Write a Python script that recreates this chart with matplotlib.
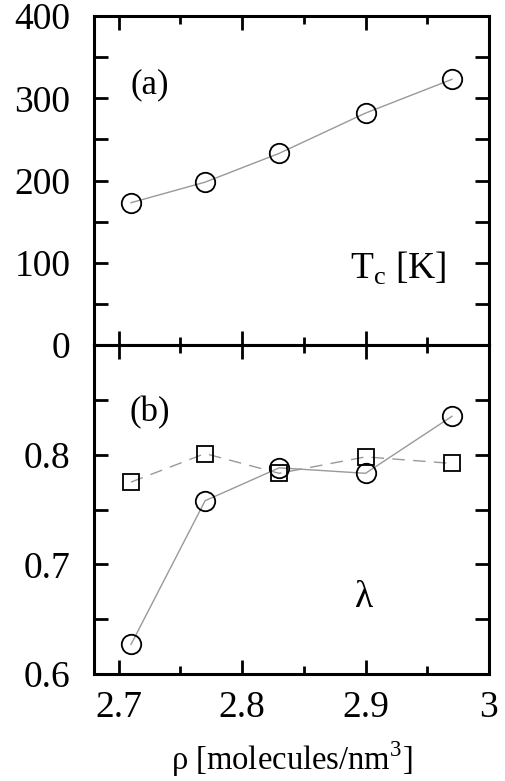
import matplotlib.pyplot as plt
from matplotlib.ticker import MultipleLocator

plt.rcParams['font.family'] = ['Liberation Serif', 'DejaVu Serif']
plt.rcParams['mathtext.fontset'] = 'custom'
plt.rcParams['mathtext.rm'] = 'Liberation Serif'

# data
rho = [2.71, 2.77, 2.83, 2.90, 2.97]
tc = [173, 198, 233, 282, 323]
lam_circles = [0.627, 0.758, 0.788, 0.783, 0.835]
lam_squares = [0.775, 0.801, 0.783, 0.798, 0.792]

fig = plt.figure(figsize=(5.05, 7.81), dpi=100)
left, right = 94 / 505, 489 / 505
y_top, y_mid, y_bot = 1 - 16 / 781, 1 - 345 / 781, 1 - 674 / 781
ax1 = fig.add_axes([left, y_mid, right - left, y_top - y_mid])
ax2 = fig.add_axes([left, y_bot, right - left, y_mid - y_bot], sharex=ax1)

line_kw = dict(color='0.6', lw=1.0)
ax1.plot(rho, tc, '-', **line_kw, zorder=1)
ax1.plot(rho, tc, 'o', ms=14, mfc='none', mec='black', mew=1.3, zorder=2)

ax2.plot(rho, lam_squares, '--', dashes=(9, 6), **line_kw, zorder=1)
ax2.plot(rho, lam_circles, '-', **line_kw, zorder=1)
ax2.plot(rho, lam_squares, 's', ms=11.5, mfc='none', mec='black', mew=1.3, zorder=2)
ax2.plot(rho, lam_circles, 'o', ms=14, mfc='none', mec='black', mew=1.3, zorder=2)

ax1.set_xlim(2.68, 3.0)
ax1.set_ylim(0, 400)
ax2.set_ylim(0.6, 0.9)

ax1.yaxis.set_major_locator(MultipleLocator(100))
ax1.yaxis.set_minor_locator(MultipleLocator(50))
ax2.yaxis.set_major_locator(MultipleLocator(0.1))
ax2.yaxis.set_minor_locator(MultipleLocator(0.05))
ax1.xaxis.set_major_locator(MultipleLocator(0.1))
ax1.xaxis.set_minor_locator(MultipleLocator(0.05))

for ax in (ax1, ax2):
    for s in ax.spines.values():
        s.set_linewidth(2.2)
    ax.tick_params(which='both', direction='in', top=True, right=True,
                   width=2.0, labelsize=27, pad=17)
    ax.tick_params(axis='x', which='major', length=10)
    ax.tick_params(axis='x', which='minor', length=6)
    ax.tick_params(axis='y', which='both', length=10)

ax1.tick_params(axis='x', labelbottom=False)
ax2.set_yticks([0.6, 0.7, 0.8])
ax2.set_xticks([2.7, 2.8, 2.9, 3.0])
ax2.set_xticklabels(['2.7', '2.8', '2.9', '3'])
ax2.tick_params(axis='x', pad=12)

ax1.text(0.142, 0.79, '(a)', transform=ax1.transAxes, fontsize=25,
         ha='center', va='center')
ax1.text(0.77, 0.234, r'T$_{\mathrm{c}}$ [K]', transform=ax1.transAxes,
         fontsize=27, ha='center', va='center')
ax2.text(0.142, 0.793, '(b)', transform=ax2.transAxes, fontsize=25,
         ha='center', va='center')
ax2.text(0.684, 0.231, 'λ', transform=ax2.transAxes, fontsize=27,
         ha='center', va='center')

ax2.set_xlabel(r'ρ [molecules/nm$^{3}$]', fontsize=23.5, labelpad=10)

fig.savefig('out.png', dpi=100)
